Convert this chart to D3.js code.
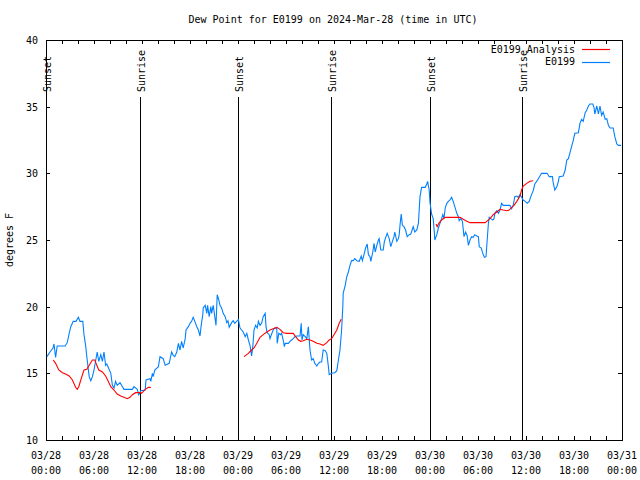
<!DOCTYPE html>
<html><head><meta charset="utf-8">
<script src="https://cdn.jsdelivr.net/npm/d3@7"></script>
<style>
body{margin:0;background:#fff}
svg{display:block}
text{font-family:"DejaVu Sans Mono","Liberation Mono",monospace;font-size:10px;fill:#000}
</style>
</head><body>
<svg id="chart" width="640" height="480"></svg>
<script>
const titleText = "Dew Point for E0199 on 2024-Mar-28 (time in UTC)";
const yLabelText = "degrees F";
const seriesNames = ["E0199 Analysis", "E0199"];
const seriesColors = ["#ff0000", "#0080ff"];
const yTicks = [10, 15, 20, 25, 30, 35, 40];
const xLabelHours = [0, 6, 12, 18, 24, 30, 36, 42, 48, 54, 60, 66, 72];
const sunNames = ["Sunset", "Sunrise", "Sunset", "Sunrise", "Sunset", "Sunrise"];
const sunHours = [0.1, 11.75, 24.1, 35.65, 48.1, 59.6];

// E0199 observations: hours after 2024-03-28 00:00 UTC, dew point (F)
const obsHours = [0.12,0.5,0.88,1.0,1.2,1.4,2.4,2.65,2.9,3.1,3.4,3.75,4.05,4.25,4.6,4.75,4.95,5.15,5.4,5.6,5.8,6.0,6.4,6.6,6.85,7.05,7.25,7.45,7.6,8.1,8.3,8.5,8.7,8.9,9.25,9.55,9.75,10.8,11.0,11.4,11.6,11.85,12.4,12.5,13.0,13.1,13.3,13.4,13.6,14.05,14.25,14.65,14.9,15.4,15.7,15.9,16.1,16.35,16.55,16.75,16.95,17.15,17.4,17.5,17.8,18.0,18.2,18.4,18.6,18.85,19.05,19.25,19.4,19.6,19.65,19.9,20.1,20.2,20.4,20.6,20.7,20.9,21.1,21.25,21.4,21.6,21.75,21.95,22.15,22.4,22.6,22.75,22.9,23.2,23.4,23.6,24.05,24.25,24.45,24.65,24.9,25.1,25.3,25.5,25.6,25.7,25.85,26.0,26.2,26.4,26.55,26.75,26.95,27.15,27.4,27.5,27.65,27.9,28.0,28.2,28.4,28.6,28.85,28.9,29.1,29.33,29.45,29.65,29.8,29.9,30.3,30.5,30.7,30.9,31.1,31.35,31.75,31.9,32.0,32.15,32.4,32.6,32.8,32.9,33.0,33.2,33.4,33.6,33.85,34.05,34.25,34.45,34.65,34.9,35.1,35.3,35.4,35.7,36.1,36.35,36.55,36.75,36.95,37.1,37.15,37.4,37.6,37.8,38.0,38.2,38.4,38.6,38.85,39.15,39.4,39.55,39.75,39.95,40.15,40.3,40.5,40.6,40.85,41.0,41.15,41.35,41.55,41.65,41.85,42.15,42.3,42.5,42.65,42.9,43.1,43.3,43.5,43.6,43.85,44.05,44.15,44.25,44.4,44.55,44.75,44.95,45.15,45.4,45.6,45.9,46.1,46.35,46.55,46.75,46.95,47.4,47.6,47.7,47.9,48.0,48.2,48.4,48.55,48.6,48.85,49.05,49.25,49.45,49.6,49.75,49.9,50.1,50.3,50.5,50.7,50.9,51.1,51.35,51.55,51.65,51.85,52.05,52.25,52.45,52.65,52.8,53.0,53.2,53.4,53.6,53.85,54.05,54.15,54.4,54.6,54.8,55.0,55.15,55.3,55.4,55.6,55.85,56.0,56.1,56.35,56.55,56.75,56.95,57.15,58.0,58.2,58.4,58.6,58.85,59.05,59.25,59.45,59.65,59.9,60.15,60.4,60.6,60.9,61.1,61.4,61.65,61.95,62.65,62.9,63.3,63.4,63.6,63.85,64.05,64.15,64.65,64.9,65.1,65.3,65.5,65.7,65.9,66.1,66.55,66.75,66.95,67.15,67.4,67.6,67.8,68.0,68.35,68.5,68.6,68.85,69.05,69.25,69.45,69.65,69.9,70.1,70.3,70.5,70.9,71.1,71.35,71.55,71.9];
const obsValues = [16.25,16.6,16.9,17.2,16.2,17.05,17.05,17.3,18.0,18.5,18.9,18.9,19.2,18.9,18.9,17.9,17.1,16.0,14.75,14.45,14.75,15.25,16.6,15.9,16.4,15.9,16.6,15.6,15.7,15.0,14.1,13.9,14.4,14.1,14.3,14.0,13.8,13.8,14.0,13.8,13.4,13.7,13.75,14.5,14.6,14.4,15.0,14.75,15.25,15.5,16.25,16.1,15.6,15.75,16.6,16.35,16.25,16.6,17.25,16.75,17.4,16.9,17.6,18.25,18.5,18.75,18.9,19.2,18.9,18.5,18.25,17.8,18.6,19.4,19.9,20.1,19.5,20.1,19.25,20.0,19.5,20.1,19.25,18.6,20.9,20.5,20.1,19.9,19.5,19.25,18.8,18.95,18.45,18.8,18.95,18.75,19.05,18.4,18.25,18.1,17.75,18.0,17.5,17.1,16.7,16.3,17.0,18.25,18.6,18.4,18.9,18.6,18.75,19.25,19.5,18.5,18.05,17.9,17.6,17.95,18.25,18.4,18.35,17.25,18.0,17.9,18.0,17.5,17.0,17.25,17.25,17.4,17.5,17.6,17.75,17.8,17.8,18.75,17.5,17.9,17.75,17.6,18.5,17.6,16.75,16.0,16.1,15.75,15.55,15.75,15.85,15.85,16.75,16.7,16.5,15.5,14.9,15.0,15.05,15.2,16.0,16.75,18.25,20.0,21.0,21.6,22.25,22.6,23.1,23.45,23.45,23.6,23.45,23.4,23.8,23.45,23.9,24.4,24.7,23.9,23.75,23.4,24.1,24.75,24.1,24.6,25.0,25.1,24.25,24.25,24.9,25.25,25.5,25.1,24.5,24.9,25.25,25.6,24.9,25.1,25.4,26.1,26.95,26.1,26.0,25.75,25.25,25.4,25.45,26.0,25.6,25.75,26.25,28.25,28.95,28.95,29.2,29.4,28.75,27.8,26.95,26.6,25.5,25.0,25.4,25.9,26.25,26.6,26.9,26.6,27.4,27.75,27.9,28.0,28.2,27.9,27.5,27.0,26.75,26.45,26.6,26.4,25.25,25.6,25.3,24.6,25.0,25.25,25.2,25.4,25.3,25.25,24.5,24.4,24.0,23.7,23.75,25.0,26.25,26.7,26.6,26.5,26.6,27.0,27.2,27.0,27.25,27.75,27.6,27.6,27.35,27.6,28.25,28.3,28.2,28.4,28.2,28.0,27.9,27.75,27.9,28.25,28.7,29.2,29.45,29.7,30.0,30.0,29.75,29.75,29.3,28.75,29.0,29.4,29.75,29.8,30.25,31.0,31.1,31.55,32.0,32.45,33.0,33.05,33.75,34.05,33.9,34.55,34.75,35.05,35.2,35.2,34.95,34.45,35.05,34.45,35.05,34.35,34.6,34.05,34.1,33.6,33.4,33.4,32.75,32.2,32.1,32.1];

// E0199 Analysis: hours after start, dew point (F); null marks a gap
const anaHours = [0.9,1.2,1.6,2.05,2.45,2.9,3.3,3.7,3.9,4.1,4.4,4.75,5.1,5.4,5.8,6.1,6.35,6.6,7.05,7.45,7.75,8.1,8.5,8.9,9.35,9.75,10.15,10.5,10.8,11.2,11.85,11.95,12.4,12.8,13.1,
  18.0,
  24.75,25.3,25.7,26.0,26.35,26.75,27.15,27.6,28.0,28.4,28.85,29.25,29.65,30.1,30.5,30.9,31.2,31.55,31.85,32.15,32.6,33.0,33.4,33.85,34.25,34.65,35.1,35.4,35.7,36.0,36.35,36.65,36.9,
  42.0,
  48.75,48.9,49.1,49.45,49.9,50.5,51.35,51.75,52.15,52.6,53.0,54.9,55.1,55.5,55.9,56.35,56.75,57.15,57.6,57.9,58.2,58.5,58.85,59.25,59.45,59.65,60.1,60.5,60.9];
const anaValues = [16.0,15.75,15.25,15.05,14.95,14.8,14.5,13.95,13.8,14.0,14.6,15.25,15.3,15.6,16.0,16.0,15.6,15.25,15.1,14.8,14.45,14.0,13.75,13.45,13.3,13.2,13.1,13.2,13.4,13.55,13.55,13.5,13.8,13.95,13.95,
  null,
  16.25,16.5,16.75,16.9,17.25,17.7,17.9,18.1,18.25,18.35,18.45,18.3,18.05,18.0,18.0,18.0,17.75,17.5,17.4,17.45,17.55,17.5,17.4,17.25,17.2,17.1,17.3,17.5,17.6,17.9,18.25,18.75,19.05,
  null,
  26.2,26.0,26.25,26.5,26.7,26.7,26.7,26.7,26.55,26.4,26.3,26.3,26.4,26.6,26.9,27.1,27.3,27.25,27.2,27.25,27.45,27.6,27.9,28.3,28.75,29.05,29.25,29.4,29.45];

const start = Date.UTC(2024, 2, 28, 0, 0);
const toDate = h => new Date(start + h * 3600e3);

const L = 46, R = 622, T = 40, B = 440;
const svg = d3.select("#chart");
const x = d3.scaleUtc().domain([toDate(0), toDate(72)]).range([L, R]);
const y = d3.scaleLinear().domain([10, 40]).range([B, T]);

svg.append("rect").attr("width", 640).attr("height", 480).attr("fill", "#fff");

// title
svg.append("text").attr("x", 333).attr("y", 23).attr("text-anchor", "middle").text(titleText);
// y label
svg.append("text").attr("transform", "translate(13,240) rotate(-90)").attr("text-anchor", "middle").text(yLabelText);

const tickLen = 4;
const g = svg.append("g").attr("shape-rendering", "crispEdges");

const yAxisL = d3.axisLeft(y).tickValues(yTicks).tickSize(-tickLen).tickPadding(8).tickFormat(d3.format("d"));
const gl = g.append("g").attr("transform", `translate(${L},0)`).call(yAxisL);
const yAxisR = d3.axisRight(y).tickValues(yTicks.slice(1, -1)).tickSize(-tickLen).tickFormat("");
const gr = g.append("g").attr("transform", `translate(${R},0)`).call(yAxisR);

const minorTicks = d3.range(0, 73, 2).map(toDate);
const xAxisB = d3.axisBottom(x).tickValues(minorTicks).tickSize(-tickLen).tickFormat("");
const gb = g.append("g").attr("transform", `translate(0,${B})`).call(xAxisB);
const xAxisT = d3.axisTop(x).tickValues(minorTicks).tickSize(-tickLen).tickFormat("");
const gt = g.append("g").attr("transform", `translate(0,${T})`).call(xAxisT);
[gl, gr, gb, gt].forEach(s => {
  s.select(".domain").remove();
  s.selectAll("line").attr("stroke", "#000");
  s.selectAll("text").attr("font-size", null).attr("font-family", null).attr("fill", "#000");
});
gl.selectAll("text").attr("dy", "0.35em");

const fmtD = d3.utcFormat("%m/%d"), fmtT = d3.utcFormat("%H:%M");
const xl = svg.append("g");
xLabelHours.forEach(h => {
  const t = xl.append("text").attr("text-anchor", "middle");
  t.append("tspan").attr("x", x(toDate(h))).attr("y", 459).text(fmtD(toDate(h)));
  t.append("tspan").attr("x", x(toDate(h))).attr("y", 474).text(fmtT(toDate(h)));
});

g.append("rect").attr("x", L).attr("y", T).attr("width", R - L).attr("height", B - T)
  .attr("fill", "none").attr("stroke", "#000");

sunHours.forEach((h, i) => {
  const px = x(toDate(h));
  g.append("line").attr("x1", px).attr("x2", px).attr("y1", 97).attr("y2", B).attr("stroke", "#000");
  svg.append("text").attr("transform", `translate(${px + 1},92) rotate(-90)`).attr("dy", "0.35em").text(sunNames[i]);
});

const lineGen = d3.line().defined(d => d[1] != null).x(d => x(toDate(d[0]))).y(d => y(d[1]));
const obsData = obsHours.map((h, i) => [h, obsValues[i]]);
const anaData = anaHours.map((h, i) => [h, anaValues[i]]);
svg.append("path").datum(obsData).attr("d", lineGen).attr("fill", "none").attr("stroke", seriesColors[1]).attr("stroke-width", 1.1);
svg.append("path").datum(anaData).attr("d", lineGen).attr("fill", "none").attr("stroke", seriesColors[0]).attr("stroke-width", 1.1);

// legend
const leg = svg.append("g");
seriesNames.forEach((n, i) => {
  const yy = 49 + i * 12.7;
  leg.append("text").attr("x", 575).attr("y", yy).attr("dy", "0.35em").attr("text-anchor", "end").text(n);
  leg.append("line").attr("x1", 582).attr("x2", 610).attr("y1", Math.round(yy) + 0.5).attr("y2", Math.round(yy) + 0.5)
    .style("stroke", seriesColors[i]).style("stroke-width", "1.2px");
});
</script>
</body></html>
